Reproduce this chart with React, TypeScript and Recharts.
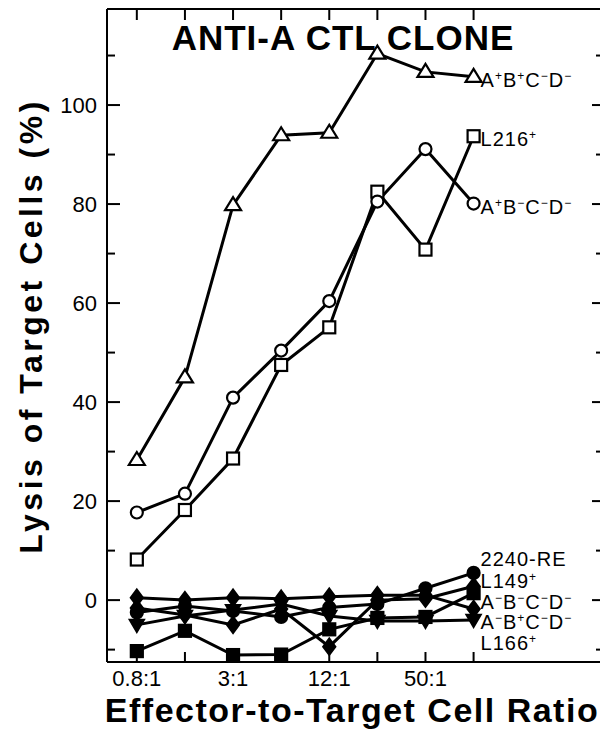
import React from "react";
import { LineChart, Line, XAxis, YAxis, ReferenceDot } from "recharts";

// ---------- data ----------
const ratios = ["0.8:1", "1.6:1", "3:1", "6:1", "12:1", "25:1", "50:1", "100:1"];
const labeledRatios = ["0.8:1", "3:1", "12:1", "50:1"];
const yTicks = [-10, 0, 10, 20, 30, 40, 50, 60, 70, 80, 90, 100, 110];
const yLabeledTicks = [0, 20, 40, 60, 80, 100];

const aPosBPos = [28.3, 45.0, 79.8, 93.9, 94.4, 110.4, 106.7, 105.7];
const l216 = [8.2, 18.2, 28.6, 47.5, 55.1, 82.5, 70.8, 93.7];
const aPosBNeg = [17.7, 21.5, 40.9, 50.4, 60.4, 80.5, 91.1, 80.1];
const re2240 = [0.5, 0.0, 0.5, 0.3, 0.7, 1.0, 1.0, -1.8];
const l149 = [-2.5, -1.2, -2.2, -3.4, -1.5, -0.8, 2.4, 5.5];
const aNegBNeg = [-10.3, -6.2, -11.1, -11.0, -5.9, -3.6, -3.4, 1.4];
const aNegBPos = [-1.6, -3.0, -5.0, -1.8, -9.4, 0.0, 0.3, 2.8];
const l166 = [-5.0, -3.2, -2.0, -0.8, -3.2, -4.2, -4.2, -4.0];

const seriesLabels = [
  "A^+B^+C^-D^-",
  "L216^+",
  "A^+B^-C^-D^-",
  "2240-RE",
  "L149^+",
  "A^-B^-C^-D^-",
  "A^-B^+C^-D^-",
  "L166^+",
];
// label anchor values (y, in % lysis) at the last ratio
const labelAnchors = [105.7, 93.7, 80.1, 9.0, 4.5, 0.3, -3.8, -8.0];

const seriesValues = [aPosBPos, l216, aPosBNeg, re2240, l149, aNegBNeg, aNegBPos, l166];
const seriesShapes = ["triangle", "square", "circle", "diamond", "circle", "square", "diamond", "invtri"];
const seriesFilled = [false, false, false, true, true, true, true, true];

const rows = ratios.map((r, i) => {
  const row: any = { idx: i, ratio: r };
  seriesValues.forEach((vals, s) => {
    row["s" + s] = vals[i];
  });
  return row;
});

// ---------- styling ----------
const FONT = "'Liberation Sans', Arial, sans-serif";
const W = 600;
const H = 721;
const MARGIN = { top: 0, right: 4, bottom: 66, left: 98 };

const makeDot = (shape: string, filled: boolean, sid: number) => (p: any) => {
  const { cx, cy, index } = p;
  const key = `d-${sid}-${index}`;
  if (cx == null || cy == null) return <g key={key} />;
  const common = { fill: filled ? "#000" : "#fff", stroke: "#000", strokeWidth: 2.2 };
  switch (shape) {
    case "triangle":
      return <polygon key={key} points={`${cx},${cy - 8} ${cx - 8},${cy + 5} ${cx + 8},${cy + 5}`} {...common} />;
    case "square":
      return <rect key={key} x={cx - 6} y={cy - 6} width={12} height={12} {...common} />;
    case "circle":
      return <circle key={key} cx={cx} cy={cy} r={6} {...common} />;
    case "diamond":
      return <polygon key={key} points={`${cx},${cy - 8} ${cx + 6},${cy} ${cx},${cy + 8} ${cx - 6},${cy}`} {...common} />;
    case "invtri":
      return <polygon key={key} points={`${cx - 7},${cy - 5} ${cx + 7},${cy - 5} ${cx},${cy + 7}`} {...common} />;
    default:
      return <circle key={key} cx={cx} cy={cy} r={5} {...common} />;
  }
};

const renderRich = (label: string) => {
  const parts: { t: string; sup: boolean }[] = [];
  let buf = "";
  for (let i = 0; i < label.length; i++) {
    if (label[i] === "^" && i + 1 < label.length) {
      if (buf) parts.push({ t: buf, sup: false });
      buf = "";
      const c = label[i + 1] === "-" ? "\u2212" : label[i + 1];
      parts.push({ t: c, sup: true });
      i++;
    } else {
      buf += label[i];
    }
  }
  if (buf) parts.push({ t: buf, sup: false });
  let prevSup = false;
  return parts.map((p, k) => {
    let dy = 0;
    if (p.sup && !prevSup) dy = -7;
    if (!p.sup && prevSup) dy = 7;
    prevSup = p.sup;
    return (
      <tspan key={k} dy={dy} fontSize={p.sup ? 12 : 20}>
        {p.t}
      </tspan>
    );
  });
};

const SeriesLabel = (text: string) => (props: any) => {
  const vb = props.viewBox || {};
  const x = (vb.x ?? 0) + (vb.width ?? 0) / 2 + 7;
  const y = (vb.y ?? 0) + (vb.height ?? 0) / 2 + 10;
  return (
    <text x={x} y={y} fontFamily={FONT} fill="#000" textAnchor="start" letterSpacing={1}>
      {renderRich(text)}
    </text>
  );
};

const LeftTick = (props: any) => {
  const { x, y, payload } = props;
  const v = payload.value;
  const major = yLabeledTicks.includes(v);
  return (
    <g>
      <line x1={x} x2={x + (major ? 13 : 8)} y1={y} y2={y} stroke="#000" strokeWidth={2} />
      {major && (
        <text x={x - 10} y={y + 8} textAnchor="end" fontFamily={FONT} fontSize={22} fill="#000">
          {v}
        </text>
      )}
    </g>
  );
};

const RightTick = (props: any) => {
  const { x, y, payload } = props;
  const major = yLabeledTicks.includes(payload.value);
  return <line x1={x} x2={x - (major ? 11 : 7)} y1={y} y2={y} stroke="#000" strokeWidth={2} />;
};

const TopTick = (props: any) => {
  const { x, y } = props;
  return <line x1={x} x2={x} y1={y} y2={y + 11} stroke="#000" strokeWidth={2} />;
};

const BottomTick = (props: any) => {
  const { x, y, payload } = props;
  const label = ratios[payload.value];
  const show = labeledRatios.includes(label);
  return (
    <g>
      <line x1={x} x2={x} y1={y} y2={y - 10} stroke="#000" strokeWidth={2} />
      {show && (
        <text x={x} y={y + 24} textAnchor="middle" fontFamily={FONT} fontSize={22} fill="#000">
          {label}
        </text>
      )}
    </g>
  );
};

const axisLine = { stroke: "#000", strokeWidth: 2 };
const idxTicks = ratios.map((_, i) => i);

export default function App() {
  return (
    <div style={{ position: "relative", width: W, height: H, background: "#fff" }}>
      <LineChart width={W} height={H} data={rows} margin={MARGIN}>
        <XAxis
          xAxisId="b"
          dataKey="idx"
          type="number"
          domain={[-0.62, 9.69]}
          ticks={idxTicks}
          interval={0}
          allowDataOverflow
          height={1}
          tickSize={0}
          tickMargin={0}
          tickLine={false}
          axisLine={axisLine}
          tick={<BottomTick />}
        />
        <XAxis
          xAxisId="t"
          orientation="top"
          dataKey="idx"
          type="number"
          domain={[-0.62, 9.69]}
          ticks={idxTicks}
          interval={0}
          allowDataOverflow
          height={1}
          tickSize={0}
          tickMargin={0}
          tickLine={false}
          axisLine={axisLine}
          tick={<TopTick />}
        />
        <YAxis
          yAxisId="l"
          type="number"
          domain={[-12.5, 119.4]}
          ticks={yTicks}
          interval={0}
          allowDataOverflow
          width={1}
          tickSize={0}
          tickMargin={0}
          tickLine={false}
          axisLine={axisLine}
          tick={<LeftTick />}
        />
        <YAxis
          yAxisId="r"
          orientation="right"
          type="number"
          domain={[-12.5, 119.4]}
          ticks={yTicks}
          interval={0}
          allowDataOverflow
          width={1}
          tickSize={0}
          tickMargin={0}
          tickLine={false}
          axisLine={axisLine}
          tick={<RightTick />}
        />
        {seriesValues.map((_, s) => (
          <Line
            key={"line" + s}
            xAxisId="b"
            yAxisId="l"
            type="linear"
            dataKey={"s" + s}
            stroke="#000"
            strokeWidth={3}
            dot={makeDot(seriesShapes[s], seriesFilled[s], s)}
            activeDot={false}
            isAnimationActive={false}
          />
        ))}
        {seriesLabels.map((lab, s) => (
          <ReferenceDot
            key={"lab" + s}
            xAxisId="b"
            yAxisId="l"
            x={ratios.length - 1}
            y={labelAnchors[s]}
            r={0}
            fill="none"
            stroke="none"
            label={SeriesLabel(lab)}
          />
        ))}
      </LineChart>
      <svg
        width={W}
        height={H}
        style={{ position: "absolute", left: 0, top: 0, pointerEvents: "none" }}
      >
        <text
          x={335}
          y={42}
          textAnchor="middle"
          fontFamily={FONT}
          fontWeight="bold"
          fontSize={35}
          letterSpacing={1}
          fill="#000"
        >
          ANTI-A CTL CLONE
        </text>
        <text
          x={344}
          y={714}
          textAnchor="middle"
          fontFamily={FONT}
          fontWeight="bold"
          fontSize={34}
          letterSpacing={1.5}
          fill="#000"
        >
          Effector-to-Target Cell Ratio
        </text>
        <text
          transform="translate(34, 318) rotate(-90)"
          x={0}
          y={0}
          textAnchor="middle"
          fontFamily={FONT}
          fontWeight="bold"
          fontSize={32}
          letterSpacing={3.5}
          fill="#000"
        >
          Lysis of Target Cells (%)
        </text>
      </svg>
    </div>
  );
}
